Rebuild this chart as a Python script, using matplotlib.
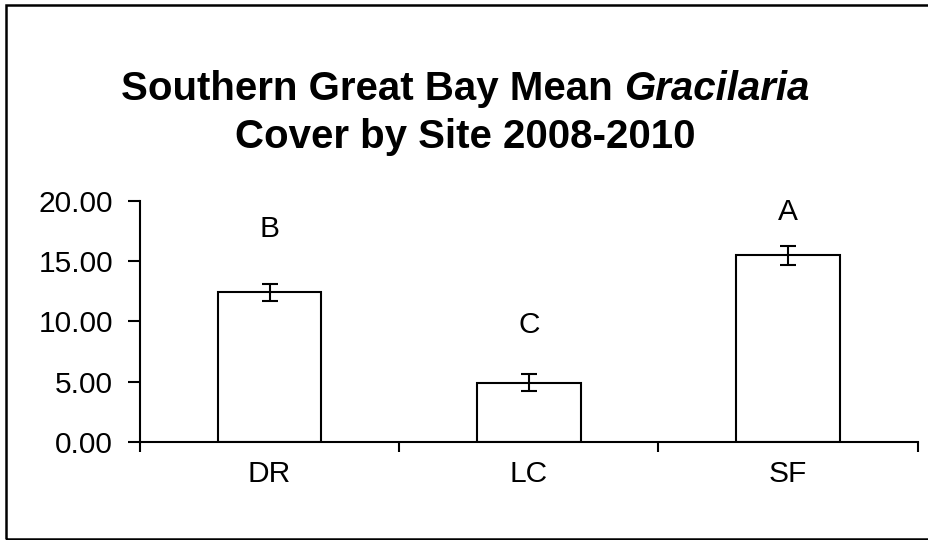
import matplotlib
matplotlib.use("Agg")
import matplotlib.pyplot as plt
from matplotlib.patches import Rectangle
import numpy as np

sites = ["DR", "LC", "SF"]
means = [12.4, 4.9, 15.5]
errors = [0.7, 0.7, 0.8]
letters = ["B", "C", "A"]
letter_y = [17.7, 9.7, 19.05]
yticks = [0, 5, 10, 15, 20]
ytick_labels = ["0.00", "5.00", "10.00", "15.00", "20.00"]

W, H = 929, 540
fig = plt.figure(figsize=(W / 100, H / 100), dpi=100)
plt.rcParams["font.family"] = ["Liberation Sans", "DejaVu Sans"]

# figure border
fig.patches.append(Rectangle((6 / W, 1.5 / H), 1.2, (538.5 - 1.5 - 3) / H,
                             transform=fig.transFigure, fill=False,
                             edgecolor="black", lw=1.8))

ax_left, ax_right = 140, 917.7
y0_px, y20_px = 441.7, 201
ax = fig.add_axes([ax_left / W, 1 - y0_px / H, (ax_right - ax_left) / W,
                   (y0_px - y20_px) / H])

x = np.arange(len(sites)) + 0.5
ax.bar(x, means, width=0.4, color="white", edgecolor="black", linewidth=1.5,
       yerr=errors, capsize=5.8,
       error_kw=dict(elinewidth=1.5, capthick=1.5, ecolor="black"), zorder=2)

for xi, lt, ly in zip(x, letters, letter_y):
    ax.text(xi, ly, lt, ha="center", va="center", fontsize=21.5)

ax.set_xlim(0, len(sites))
ax.set_ylim(0, 20)
ax.set_yticks(yticks)
ax.set_yticklabels(ytick_labels)
ax.set_xticks(x)
ax.set_xticklabels(sites)
ax.set_xticks(np.arange(len(sites) + 1), minor=True)
ax.tick_params(axis="x", which="major", length=0, pad=13, labelsize=21.5)
ax.tick_params(axis="x", which="minor", length=7, width=1.5, direction="out")
ax.tick_params(axis="y", length=8.4, width=1.5, direction="out", pad=11,
               labelsize=21.5)
for s in ["top", "right"]:
    ax.spines[s].set_visible(False)
for s in ["left", "bottom"]:
    ax.spines[s].set_linewidth(1.5)
ax.patch.set_alpha(0)

# title with italic part
fig.canvas.draw()
renderer = fig.canvas.get_renderer()
tsize = 29
cx = 465 / W
line1_y = 1 - 100 / H
line2_y = 1 - 148 / H
t1 = fig.text(0, line1_y, "Southern Great Bay Mean ", fontsize=tsize,
              fontweight="bold", ha="left", va="baseline")
t2 = fig.text(0, line1_y, "Gracilaria", fontsize=tsize, fontweight="bold",
              style="italic", ha="left", va="baseline")
w1 = t1.get_window_extent(renderer).width
w2 = t2.get_window_extent(renderer).width
start = cx * W - (w1 + w2) / 2
t1.set_x(start / W)
t2.set_x((start + w1) / W)
fig.text(cx, line2_y, "Cover by Site 2008-2010", fontsize=tsize,
         fontweight="bold", ha="center", va="baseline")

fig.savefig("out.png", dpi=100)
